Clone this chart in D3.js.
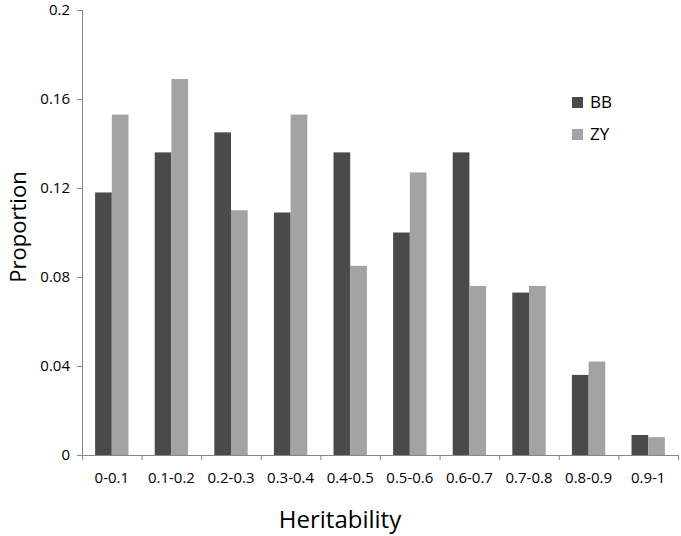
<!DOCTYPE html>
<html>
<head>
<meta charset="utf-8">
<script src="https://cdn.jsdelivr.net/npm/d3@7"></script>
<style>
  html, body { margin: 0; padding: 0; background: #fff; }
  svg { display: block; }
  .axis path, .axis line { stroke: #878787; }
  .axis text { font-family: "Open Sans", sans-serif; font-size: 15px; fill: #000; }
</style>
</head>
<body>
<svg id="chart" width="681" height="536"></svg>
<script>
// chart data
const categories = ["0-0.1", "0.1-0.2", "0.2-0.3", "0.3-0.4", "0.4-0.5", "0.5-0.6", "0.6-0.7", "0.7-0.8", "0.8-0.9", "0.9-1"];
const seriesNames = ["BB", "ZY"];
const bbValues = [0.118, 0.136, 0.145, 0.109, 0.136, 0.100, 0.136, 0.073, 0.036, 0.009];
const zyValues = [0.153, 0.169, 0.110, 0.153, 0.085, 0.127, 0.076, 0.076, 0.042, 0.008];
const yTicks = [0, 0.04, 0.08, 0.12, 0.16, 0.2];

const svg = d3.select("#chart");
const W = 681, H = 536;
const margin = { top: 10, right: 3, bottom: 81, left: 82 };
const width  = W - margin.left - margin.right;
const height = H - margin.top - margin.bottom;

const g = svg.append("g").attr("transform", `translate(${margin.left},${margin.top})`);

const x = d3.scaleBand()
    .domain(categories)
    .range([0, width])
    .paddingInner(0.44)
    .paddingOuter(0.22);

const xInner = d3.scaleBand()
    .domain(seriesNames)
    .range([0, x.bandwidth()]);

const y = d3.scaleLinear().domain([0, 0.2]).range([height, 0]);

const color = d3.scaleOrdinal().domain(seriesNames).range(["#4a4a4a", "#a3a3a3"]);

// y axis
g.append("g")
    .attr("class", "axis")
    .call(d3.axisLeft(y).tickValues(yTicks).tickSize(5).tickPadding(7).tickSizeOuter(0)
        .tickFormat(d => String(+d.toFixed(2))))
    .call(a => a.select(".domain").attr("d", `M0.5,0V${height}`));

// x axis: ticks at category boundaries
const xEdge = d3.scaleLinear().domain([0, categories.length]).range([0, width]);
g.append("g")
    .attr("class", "axis")
    .attr("transform", `translate(0,${height})`)
    .call(d3.axisBottom(xEdge).tickValues(d3.range(categories.length + 1)).tickSize(5).tickSizeOuter(0).tickFormat(""));

g.append("g")
    .attr("class", "axis")
    .attr("transform", `translate(0,${height})`)
    .call(d3.axisBottom(x).tickSize(0).tickPadding(17))
    .call(a => a.select(".domain").remove());

// bars
const rows = categories.map((c, i) => ({ cat: c, BB: bbValues[i], ZY: zyValues[i] }));

g.selectAll(".cat")
    .data(rows)
    .enter()
    .append("g")
    .attr("class", "cat")
    .attr("transform", d => `translate(${x(d.cat)},0)`)
    .selectAll("rect")
    .data(d => seriesNames.map(k => ({ k, val: d[k] })))
    .enter()
    .append("rect")
    .attr("x", d => xInner(d.k))
    .attr("y", d => y(d.val))
    .attr("width", xInner.bandwidth())
    .attr("height", d => height - y(d.val))
    .attr("fill", d => color(d.k));

// legend
const legend = svg.append("g").attr("transform", "translate(572,97)");
seriesNames.forEach((s, i) => {
    const row = legend.append("g").attr("transform", `translate(0,${i * 32})`);
    row.append("rect").attr("width", 11).attr("height", 11).attr("fill", color(s));
    row.append("text").attr("x", 18).attr("y", 11)
        .style("font", "17px 'Open Sans', sans-serif").text(s);
});

// axis titles
svg.append("text")
    .attr("transform", "translate(26,227) rotate(-90)")
    .attr("text-anchor", "middle")
    .style("font", "22px 'Open Sans', sans-serif")
    .text("Proportion");

svg.append("text")
    .attr("x", 340).attr("y", 528)
    .attr("text-anchor", "middle")
    .style("font", "24px 'Open Sans', sans-serif")
    .text("Heritability");
</script>
</body>
</html>
